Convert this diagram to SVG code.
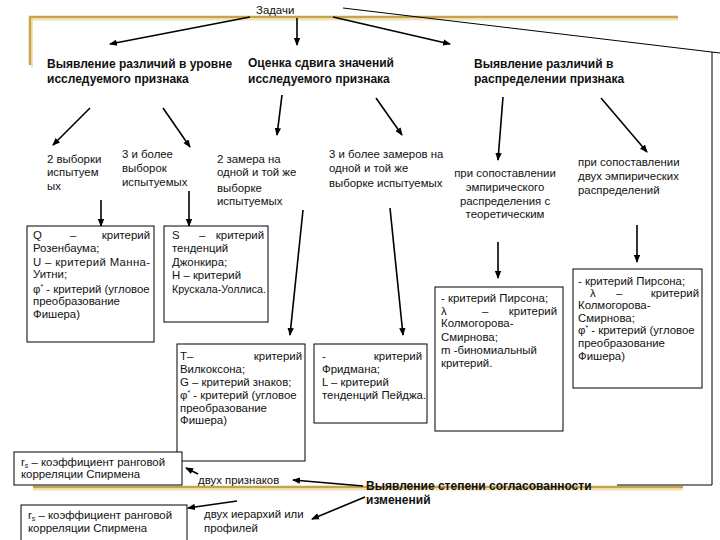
<svg xmlns="http://www.w3.org/2000/svg" width="720" height="540" viewBox="0 0 720 540">
<style>
text{font-family:"Liberation Sans",Arial,sans-serif;font-size:11.4px;fill:#111}
.h{font-weight:bold;font-size:12px}
.box{fill:#fff;stroke:#000;stroke-width:1}
.arr{stroke:#000;stroke-width:1.6;fill:none;marker-end:url(#ah)}
.thin{stroke:#000;stroke-width:1;fill:none}
.gold{stroke:#c6a447;stroke-width:2.4;fill:none}
.goldsh{stroke:#efe2b8;stroke-width:2;fill:none}
.mid{text-anchor:middle}
.end{text-anchor:end}
</style>
<defs>
<marker id="ah" markerWidth="8" markerHeight="8" refX="7" refY="4" orient="auto" markerUnits="userSpaceOnUse">
<path d="M0,0.8 L8,4 L0,7.2 z" fill="#000"/>
</marker>
</defs>
<rect width="720" height="540" fill="#fff"/>

<g id="frame">
<polyline class="goldsh" points="32,67 32,19.5 678,19.5"/>
<polyline class="gold" points="30,65 30,17 678,17"/>
<line class="goldsh" x1="33" y1="489.5" x2="683" y2="489.5"/>
<line class="gold" x1="33" y1="487" x2="683" y2="487"/>
<polyline class="thin" points="343,8 720,53"/>
<polyline class="thin" points="712,52 712,485 617,485"/>
</g>

<g id="connectors">
<line class="arr" x1="250" y1="17" x2="110" y2="44"/>
<line class="arr" x1="297" y1="18" x2="297" y2="45"/>
<line class="arr" x1="333" y1="17" x2="450" y2="44"/>
<line class="arr" x1="90" y1="108" x2="53" y2="145"/>
<line class="arr" x1="163" y1="108" x2="190" y2="147"/>
<line class="arr" x1="282" y1="95" x2="277" y2="135"/>
<line class="arr" x1="376" y1="98" x2="402" y2="135"/>
<line class="arr" x1="503" y1="97" x2="498" y2="160"/>
<line class="arr" x1="601" y1="98" x2="647" y2="152"/>
<line class="arr" x1="101" y1="200" x2="101" y2="226"/>
<line class="arr" x1="189" y1="191" x2="189" y2="226"/>
<line class="arr" x1="303" y1="210" x2="290" y2="335"/>
<line class="arr" x1="390" y1="208" x2="403" y2="335"/>
<line class="arr" x1="498" y1="242" x2="498" y2="278"/>
<line class="arr" x1="637" y1="225" x2="637" y2="262"/>
<line class="arr" x1="363" y1="486" x2="293" y2="480"/>
<line class="arr" x1="198" y1="474" x2="186" y2="468"/>
<line class="arr" x1="365" y1="497" x2="312" y2="519"/>
<line class="arr" x1="237" y1="501" x2="188" y2="508"/>
</g>

<g id="root">
<text x="256" y="14" font-size="12">Задачи</text>
</g>

<g id="task1">
<text class="h" x="47" y="68">Выявление различий в уровне</text>
<text class="h" x="47" y="83">исследуемого признака</text>
</g>
<g id="task2">
<text class="h" x="248" y="67">Оценка сдвига значений</text>
<text class="h" x="248" y="83">исследуемого признака</text>
</g>
<g id="task3">
<text class="h" x="474" y="68">Выявление различий в</text>
<text class="h" x="474" y="83">распределении признака</text>
</g>

<g id="two-samples">
<text x="47" y="163">2 выборки</text>
<text x="47" y="176">испытуем</text>
<text x="47" y="190">ых</text>
</g>
<g id="three-samples">
<text x="122" y="158">3 и более</text>
<text x="122" y="172">выборок</text>
<text x="122" y="186">испытуемых</text>
</g>
<g id="two-measures">
<text x="217" y="163">2 замера на</text>
<text x="217" y="176">одной и той же</text>
<text x="217" y="192">выборке</text>
<text x="217" y="205">испытуемых</text>
</g>
<g id="three-measures">
<text x="329" y="158">3 и более замеров на</text>
<text x="329" y="172">одной и той же</text>
<text x="329" y="187">выборке испытуемых</text>
</g>
<g id="emp-theor">
<text class="mid" x="505" y="177">при сопоставлении</text>
<text class="mid" x="505" y="191">эмпирического</text>
<text class="mid" x="505" y="205">распределения с</text>
<text class="mid" x="505" y="218">теоретическим</text>
</g>
<g id="emp-emp">
<text x="578" y="166">при сопоставлении</text>
<text x="578" y="180">двух эмпирических</text>
<text x="578" y="194">распределений</text>
</g>

<g id="box-q">
<rect class="box" x="27" y="226" width="127" height="116"/>
<text x="33" y="239">Q</text><text x="70" y="239">–</text><text class="end" x="150" y="239">критерий</text>
<text x="33" y="252">Розенбаума;</text>
<text x="33" y="266" textLength="117" lengthAdjust="spacing">U – критерий Манна-</text>
<text x="33" y="278">Уитни;</text>
<text x="33" y="293">φ<tspan font-size="7" dy="-4">*</tspan><tspan dy="4"> - критерий (угловое</tspan></text>
<text x="33" y="305">преобразование</text>
<text x="33" y="318">Фишера)</text>
</g>

<g id="box-s">
<rect class="box" x="164" y="226" width="104" height="96"/>
<text x="172" y="239">S</text><text x="199" y="239">–</text><text class="end" x="264" y="239">критерий</text>
<text x="172" y="252">тенденций</text>
<text x="172" y="266">Джонкира;</text>
<text x="172" y="279">H – критерий</text>
<text x="172" y="293" textLength="94" lengthAdjust="spacingAndGlyphs">Крускала-Уоллиса.</text>
</g>

<g id="box-t">
<rect class="box" x="177" y="344" width="128" height="117"/>
<text x="180" y="360">T–</text><text class="end" x="302" y="360">критерий</text>
<text x="180" y="373">Вилкоксона;</text>
<text x="180" y="386">G – критерий знаков;</text>
<text x="180" y="399">φ<tspan font-size="7" dy="-4">*</tspan><tspan dy="4"> - критерий (угловое</tspan></text>
<text x="180" y="412">преобразование</text>
<text x="180" y="424">Фишера)</text>
</g>

<g id="box-friedman">
<rect class="box" x="314" y="344" width="113" height="79"/>
<text x="322" y="360">-</text><text class="end" x="422" y="360">критерий</text>
<text x="322" y="373">Фридмана;</text>
<text x="322" y="386">L – критерий</text>
<text x="322" y="399">тенденций Пейджа.</text>
</g>

<g id="box-pearson1">
<rect class="box" x="435" y="287" width="128" height="144"/>
<text x="441" y="302">- критерий Пирсона;</text>
<text x="441" y="315">λ</text><text x="482" y="315">–</text><text class="end" x="557" y="315">критерий</text>
<text x="441" y="327">Колмогорова-</text>
<text x="441" y="341">Смирнова;</text>
<text x="441" y="354">m -биномиальный</text>
<text x="441" y="367">критерий.</text>
</g>

<g id="box-pearson2">
<rect class="box" x="573" y="269" width="129" height="119"/>
<text x="578" y="285">- критерий Пирсона;</text>
<text x="590" y="297">λ</text><text x="616" y="297">–</text><text class="end" x="699" y="297">критерий</text>
<text x="578" y="309">Колмогорова-</text>
<text x="578" y="322">Смирнова;</text>
<text x="578" y="334">φ<tspan font-size="7" dy="-4">*</tspan><tspan dy="4"> - критерий (угловое</tspan></text>
<text x="578" y="347">преобразование</text>
<text x="578" y="360">Фишера)</text>
</g>

<g id="box-rs1">
<rect class="box" x="14" y="452" width="168" height="33"/>
<text x="21" y="466">r<tspan font-size="7" dy="2">s</tspan><tspan dy="-2"> – коэффициент ранговой</tspan></text>
<text x="21" y="478">корреляции Спирмена</text>
</g>

<g id="box-rs2">
<rect class="box" x="21" y="505" width="166" height="40"/>
<text x="28" y="519">r<tspan font-size="7" dy="2">s</tspan><tspan dy="-2"> – коэффициент ранговой</tspan></text>
<text x="28" y="532">корреляции Спирмена</text>
</g>

<g id="two-features">
<text x="198" y="484">двух признаков</text>
</g>
<g id="two-hierarchies">
<text x="204" y="518">двух иерархий или</text>
<text x="204" y="532">профилей</text>
</g>
<g id="task4">
<text class="h" x="366" y="490">Выявление степени согласованности</text>
<text class="h" x="366" y="504">изменений</text>
</g>
</svg>
